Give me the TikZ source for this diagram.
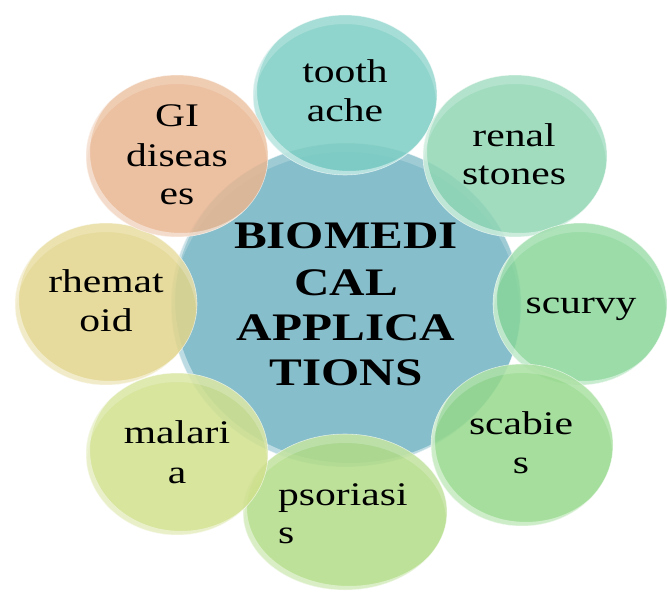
\documentclass[tikz,border=0pt]{standalone}
\usepackage{fontspec}
\setmainfont{Liberation Serif}
\newfontfamily\bubfont[FakeStretch=1.26]{Liberation Serif}
\usetikzlibrary{shapes.geometric}
\definecolor{cmain}{RGB}{135,190,203}
\definecolor{ctooth}{RGB}{125,206,196}
\definecolor{crenal}{RGB}{144,214,180}
\definecolor{cscurvy}{RGB}{137,214,154}
\definecolor{cscab}{RGB}{150,217,140}
\definecolor{cpsor}{RGB}{178,220,135}
\definecolor{cmal}{RGB}{208,224,140}
\definecolor{crhem}{RGB}{226,213,140}
\definecolor{cgi}{RGB}{233,182,145}
\tikzset{
  bubble/.style={ellipse, inner sep=0pt, draw=white, draw opacity=0.6, line width=0.6pt},
  lab/.style={anchor=base, inner sep=0pt, text=black, font=\bubfont\fontsize{33}{39}\selectfont},
  mainlab/.style={anchor=base, inner sep=0pt, text=black, font=\bubfont\bfseries\fontsize{39}{46}\selectfont},
}
% name, x, y, rx, ry, colour, opacity
\newcommand\bubbleat[7]{%
  \node[bubble, fill=#6, fill opacity=#7, minimum width={2*#4pt}, minimum height={2*#5pt}] (#1) at (#2,#3) {};
  \begin{scope}
    \clip (#2,#3) ellipse [x radius=#4, y radius=#5];
    \fill[white, fill opacity=0.2, even odd rule] (#2-#4,#3-#5) rectangle (#2+#4,#3+#5)
         (#2,#3+9) ellipse [x radius=#4-1, y radius=#5];
    \fill[white, fill opacity=0.45, even odd rule] (#2-#4,#3-#5) rectangle (#2+#4,#3+#5)
         (#2+4,#3-4) ellipse [x radius=#4, y radius=#5];
  \end{scope}}
\begin{document}
\begin{tikzpicture}[x=1pt,y=-1pt]
\useasboundingbox (0,0) rectangle (668,593);
\bubbleat{center}{346}{305}{175}{162}{cmain}{1}
\bubbleat{tooth}{345}{95}{92}{80}{ctooth}{0.85}
\bubbleat{renal}{515}{156}{92}{81}{crenal}{0.85}
\bubbleat{scurvy}{580}{304}{87}{81}{cscurvy}{0.85}
\bubbleat{scabies}{522}{445}{91}{81}{cscab}{0.85}
\bubbleat{psoriasis}{345}{512}{102}{78}{cpsor}{0.85}
\bubbleat{malaria}{177}{454}{91}{81}{cmal}{0.85}
\bubbleat{rhematoid}{106}{304}{91}{81}{crhem}{0.85}
\bubbleat{gi}{177}{156}{91}{81}{cgi}{0.85}

\node[mainlab] (m1) at (346,248) {BIOMEDI};
\node[mainlab] (m2) at (346,295) {CAL};
\node[mainlab] (m3) at (346,340) {APPLICA};
\node[mainlab] (m4) at (346,385) {TIONS};

\node[lab] (t1) at (345,83) {tooth};
\node[lab] (t2) at (345,122) {ache};
\node[lab] (r1) at (514,147) {renal};
\node[lab] (r2) at (514,185) {stones};
\node[lab] (g1) at (177,127) {GI};
\node[lab] (g2) at (177,167) {diseas};
\node[lab] (g3) at (177,205) {es};
\node[lab] (h1) at (106,292) {rhemat};
\node[lab] (h2) at (106,331) {oid};
\node[lab] (s1) at (581,313) {scurvy};
\node[lab] (c1) at (521,434) {scabie};
\node[lab] (c2) at (521,473) {s};
\node[lab, anchor=base west] (p1) at (278,505) {psoriasi};
\node[lab, anchor=base west] (p2) at (278,543) {s};
\node[lab] (a1) at (177,443) {malari};
\node[lab] (a2) at (177,483) {a};
\end{tikzpicture}
\end{document}
